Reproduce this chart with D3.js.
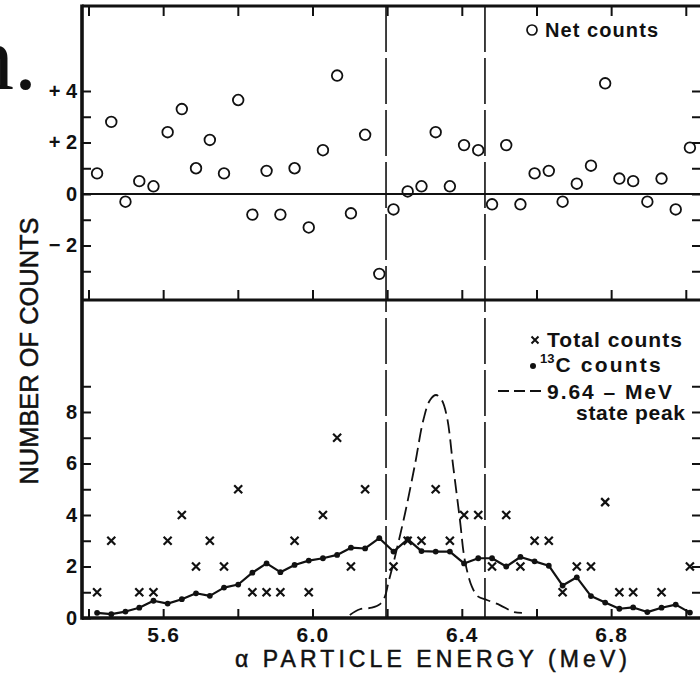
<!DOCTYPE html>
<html>
<head>
<meta charset="utf-8">
<script src="https://cdn.jsdelivr.net/npm/d3@7"></script>
<style>
  html, body { margin: 0; padding: 0; background: #fff; }
  svg { display: block; }
  text { font-family: "Liberation Sans", Arial, Helvetica, sans-serif; fill: #111; }
</style>
</head>
<body>
<svg id="chart" width="700" height="673"></svg>
<script>
// Channel centre energies (MeV)
const energy = [5.423, 5.461, 5.499, 5.536, 5.574, 5.612, 5.650, 5.688, 5.725, 5.763,
                5.801, 5.839, 5.877, 5.914, 5.952, 5.990, 6.028, 6.066, 6.103, 6.141,
                6.179, 6.217, 6.255, 6.292, 6.330, 6.368, 6.406, 6.444, 6.481, 6.519,
                6.557, 6.595, 6.633, 6.670, 6.708, 6.746, 6.784, 6.822, 6.859, 6.897,
                6.935, 6.973, 7.011];

// Net counts per channel (upper panel)
const netCounts = [0.8, 2.8, -0.3, 0.5, 0.3, 2.4, 3.3, 1.0, 2.1, 0.8,
                   3.65, -0.8, 0.9, -0.8, 1.0, -1.3, 1.7, 4.6, -0.75, 2.3,
                   -3.1, -0.6, 0.1, 0.3, 2.4, 0.3, 1.9, 1.7, -0.4, 1.9,
                   -0.4, 0.8, 0.9, -0.3, 0.4, 1.1, 4.3, 0.6, 0.5, -0.3,
                   0.6, -0.6, 1.8];

// Total counts per channel (lower panel, crosses); empty channels carry no mark
const totalCounts = [1, 3, 0, 1, 1, 3, 4, 2, 3, 2,
                     5, 1, 1, 1, 3, 1, 4, 7, 2, 5,
                     0, 2, 3, 3, 5, 3, 4, 4, 2, 4,
                     2, 3, 3, 1, 2, 2, 4.5, 1, 1, 0,
                     1, 0, 2];

// 13C counts per channel (lower panel, joined dots)
const c13Counts = [0.2, 0.15, 0.25, 0.4, 0.67, 0.56, 0.73, 0.96, 0.86, 1.18,
                   1.3, 1.76, 2.12, 1.78, 2.06, 2.23, 2.32, 2.45, 2.73, 2.7,
                   3.1, 2.58, 3.06, 2.6, 2.58, 2.58, 2.12, 2.32, 2.32, 2.0,
                   2.37, 2.2, 2.03, 1.26, 1.58, 0.85, 0.6, 0.36, 0.41, 0.23,
                   0.4, 0.52, 0.21];

// 9.64-MeV state peak shape (dashed curve)
const peakEnergy = [6.100, 6.127, 6.159, 6.181, 6.194, 6.203, 6.221, 6.248, 6.275, 6.297,
                    6.315, 6.331, 6.346, 6.360, 6.377, 6.395, 6.408, 6.427, 6.444, 6.467,
                    6.502, 6.538, 6.561];
const peakCounts = [0.12, 0.34, 0.40, 0.54, 0.83, 1.35, 2.38, 4.07, 6.0, 7.69,
                    8.47, 8.66, 8.47, 7.82, 5.88, 3.8, 2.25, 1.22, 0.83, 0.70,
                    0.50, 0.24, 0.20];

// Energy window limits (vertical dashed lines)
const windowEdges = [6.197, 6.462];

// Axis ticks
const xTickValues = [5.4, 5.6, 5.8, 6.0, 6.2, 6.4, 6.6, 6.8, 7.0];
const xTickLabels = ["", "5.6", "", "6.0", "", "6.4", "", "6.8", ""];
const netTickValues = [-3, -2, -1, 0, 1, 2, 3, 4];
const netTickLabels = ["", "\u2212 2", "", "0", "", "+ 2", "", "+ 4"];
const totalTickValues = [0, 1, 2, 3, 4, 5, 6, 7, 8, 9];
const totalTickLabels = ["0", "", "2", "", "4", "", "6", "", "8", ""];

// Frame geometry
const frameLeft = 82, frameRight = 702, frameTop = 6, frameMid = 300, frameBottom = 618;

const svg = d3.select("#chart");

const x = d3.scaleLinear().domain([5.4, 7.0]).range([88.5, 685.8]);
const yNet = d3.scaleLinear().domain([-2, 4]).range([245.5, 91]);
const yTot = d3.scaleLinear().domain([0, 8]).range([618, 412]);

const labelOf = (vals, labels) => d => labels[vals.indexOf(d)];

function styleAxis(g, fontSize, spacing) {
  g.select(".domain").remove();
  g.selectAll(".tick line").attr("stroke", "#111").attr("stroke-width", 2);
  g.selectAll(".tick text")
    .attr("fill", "#111")
    .style("font-family", '"Liberation Sans", Arial, sans-serif')
    .style("font-weight", "bold")
    .style("font-size", fontSize + "px")
    .style("letter-spacing", (spacing || 0) + "px");
}

// Left axes (inward ticks)
svg.append("g").attr("transform", `translate(${frameLeft},0)`)
  .call(d3.axisLeft(yNet).tickValues(netTickValues).tickSize(-9).tickPadding(5)
    .tickFormat(labelOf(netTickValues, netTickLabels)))
  .call(g => styleAxis(g, 20, 0));

svg.append("g").attr("transform", `translate(${frameLeft},0)`)
  .call(d3.axisLeft(yTot).tickValues(totalTickValues).tickSize(-9).tickPadding(5)
    .tickFormat(labelOf(totalTickValues, totalTickLabels)))
  .call(g => styleAxis(g, 20, 0));

// Right axes (inward ticks, no labels)
svg.append("g").attr("transform", `translate(${frameRight},0)`)
  .call(d3.axisRight(yNet).tickValues(netTickValues).tickSize(-10).tickFormat(""))
  .call(g => styleAxis(g, 20));
svg.append("g").attr("transform", `translate(${frameRight},0)`)
  .call(d3.axisRight(yTot).tickValues(totalTickValues.slice(1)).tickSize(-10).tickFormat(""))
  .call(g => styleAxis(g, 20));

// Top edge ticks (pointing down)
svg.append("g").attr("transform", `translate(0,${frameTop})`)
  .call(d3.axisTop(x).tickValues(xTickValues).tickSize(-10).tickFormat(""))
  .call(g => styleAxis(g, 20));

// Panel divider ticks (pointing up into the upper panel)
svg.append("g").attr("transform", `translate(0,${frameMid})`)
  .call(d3.axisBottom(x).tickValues(xTickValues).tickSize(-10).tickFormat(""))
  .call(g => styleAxis(g, 20));

// Bottom energy axis
svg.append("g").attr("transform", `translate(0,${frameBottom})`)
  .call(d3.axisBottom(x).tickValues(xTickValues).tickSize(-9).tickPadding(9)
    .tickFormat(labelOf(xTickValues, xTickLabels)))
  .call(g => styleAxis(g, 21, 1.2));

// Frame and panel divider
const frame = svg.append("g").attr("stroke", "#111").attr("fill", "none");
frame.append("line").attr("x1", frameLeft).attr("x2", frameLeft)
  .attr("y1", frameTop - 1.5).attr("y2", frameBottom + 1.8).attr("stroke-width", 3.6);
frame.append("line").attr("x1", frameLeft).attr("x2", 700)
  .attr("y1", frameTop).attr("y2", frameTop).attr("stroke-width", 3);
frame.append("line").attr("x1", frameLeft).attr("x2", 700)
  .attr("y1", frameMid).attr("y2", frameMid).attr("stroke-width", 3);
frame.append("line").attr("x1", frameLeft).attr("x2", 700)
  .attr("y1", frameBottom).attr("y2", frameBottom).attr("stroke-width", 3.6);
frame.append("line").attr("x1", frameRight).attr("x2", frameRight)
  .attr("y1", frameTop).attr("y2", frameBottom).attr("stroke-width", 3);

// Zero line of the net-count panel
svg.append("line")
  .attr("x1", frameLeft).attr("x2", 700)
  .attr("y1", yNet(0)).attr("y2", yNet(0))
  .attr("stroke", "#111").attr("stroke-width", 1.8);

// Energy window: long-dash vertical lines through both panels
svg.append("g").selectAll("line").data(windowEdges).join("line")
  .attr("x1", d => x(d)).attr("x2", d => x(d))
  .attr("y1", frameTop).attr("y2", frameBottom)
  .attr("stroke", "#111").attr("stroke-width", 1.6)
  .attr("stroke-dasharray", "46,6");

// Upper panel: net counts (open circles)
svg.append("g").selectAll("circle").data(energy).join("circle")
  .attr("cx", d => x(d))
  .attr("cy", (d, i) => yNet(netCounts[i]))
  .attr("r", 5.3)
  .attr("fill", "none").attr("stroke", "#111").attr("stroke-width", 1.8);

// Lower panel: 9.64-MeV state peak (dashed curve)
const peakLine = d3.line()
  .x((d, i) => x(peakEnergy[i]))
  .y(d => yTot(d))
  .curve(d3.curveCatmullRom.alpha(0.5));
svg.append("path").datum(peakCounts)
  .attr("d", peakLine)
  .attr("fill", "none").attr("stroke", "#111").attr("stroke-width", 1.8)
  .attr("stroke-dasharray", "14,6");

// Lower panel: 13C counts (line with dots)
const c13Line = d3.line()
  .x((d, i) => x(energy[i]))
  .y(d => yTot(d));
svg.append("path").datum(c13Counts)
  .attr("d", c13Line)
  .attr("fill", "none").attr("stroke", "#111").attr("stroke-width", 2.2)
  .attr("stroke-linejoin", "round");
svg.append("g").selectAll("circle").data(c13Counts).join("circle")
  .attr("cx", (d, i) => x(energy[i]))
  .attr("cy", d => yTot(d))
  .attr("r", 2.9).attr("fill", "#111");

// Lower panel: total counts (crosses)
const crossPath = "M-4,-4L4,4M-4,4L4,-4";
svg.append("g").selectAll("path")
  .data(totalCounts.map((v, i) => ({ e: energy[i], v })).filter(d => d.v > 0))
  .join("path")
  .attr("transform", d => `translate(${x(d.e)},${yTot(d.v)})`)
  .attr("d", crossPath)
  .attr("stroke", "#111").attr("stroke-width", 2.2).attr("fill", "none");

// Legends
const legend = svg.append("g");
legend.append("circle").attr("cx", 532).attr("cy", 30).attr("r", 5)
  .attr("fill", "none").attr("stroke", "#111").attr("stroke-width", 1.7);
legend.append("text").attr("x", 545).attr("y", 37)
  .attr("textLength", 113).attr("lengthAdjust", "spacing")
  .style("font-size", "20px").style("font-weight", "bold").text("Net counts");

legend.append("path").attr("transform", "translate(535,340)")
  .attr("d", "M-3.5,-3.5L3.5,3.5M-3.5,3.5L3.5,-3.5")
  .attr("stroke", "#111").attr("stroke-width", 2);
legend.append("text").attr("x", 547).attr("y", 347)
  .attr("textLength", 135).attr("lengthAdjust", "spacing")
  .style("font-size", "21px").style("font-weight", "bold").text("Total counts");

legend.append("circle").attr("cx", 533).attr("cy", 366).attr("r", 3).attr("fill", "#111");
const c13Label = legend.append("text").attr("x", 540).attr("y", 372)
  .style("font-weight", "bold");
c13Label.append("tspan").attr("dy", -9).style("font-size", "13px").text("13");
c13Label.append("tspan").attr("dy", 9).attr("dx", 1)
  .style("font-size", "21px").style("letter-spacing", "2.2px").text("C counts");

legend.append("line").attr("x1", 498).attr("x2", 545).attr("y1", 391).attr("y2", 391)
  .attr("stroke", "#111").attr("stroke-width", 2).attr("stroke-dasharray", "11,5");
legend.append("text").attr("x", 547).attr("y", 399)
  .attr("textLength", 125).attr("lengthAdjust", "spacing")
  .style("font-size", "21px").style("font-weight", "bold").text("9.64 \u2013 MeV");
legend.append("text").attr("x", 576).attr("y", 420)
  .attr("textLength", 109).attr("lengthAdjust", "spacing")
  .style("font-size", "21px").style("font-weight", "bold").text("state peak");

// Axis titles
svg.append("text")
  .attr("transform", "translate(38,351) rotate(-90)")
  .attr("text-anchor", "middle")
  .attr("textLength", 267).attr("lengthAdjust", "spacingAndGlyphs")
  .attr("stroke", "#111").attr("stroke-width", 0.5)
  .style("font-size", "25px")
  .text("NUMBER OF COUNTS");

svg.append("text")
  .attr("x", 235).attr("y", 667)
  .attr("textLength", 392).attr("lengthAdjust", "spacing")
  .attr("stroke", "#111").attr("stroke-width", 0.5)
  .style("font-size", "23px")
  .text("\u03B1 PARTICLE ENERGY  (MeV)");

// Fragment of surrounding page text at the upper left
svg.append("text")
  .attr("x", 37).attr("y", 89)
  .attr("text-anchor", "end")
  .style("font-family", '"Liberation Serif", "Times New Roman", serif')
  .style("font-size", "92px")
  .text("n.");
</script>
</body>
</html>
